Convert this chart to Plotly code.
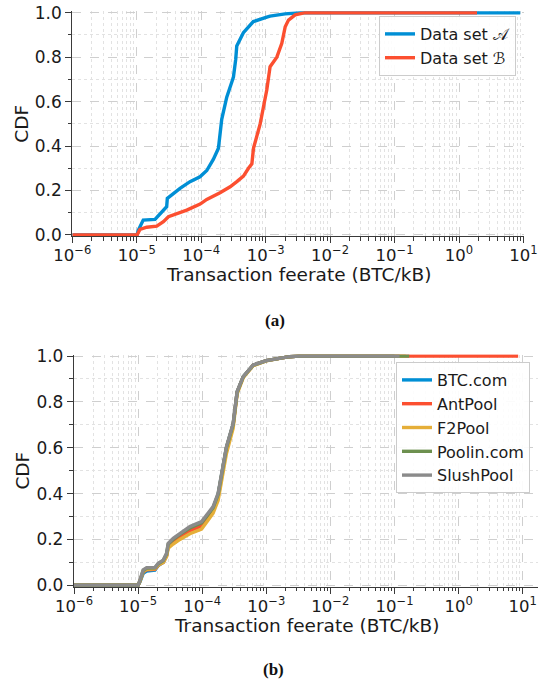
import plotly.graph_objects as go

# ---------------- data: panel (a) ----------------
a_feerate = [1e-6, 1.01e-5, 1.06e-5, 1.26e-5, 1.92e-5, 2.58e-5, 2.91e-5, 2.98e-5, 3.70e-5,
             4.69e-5, 6.70e-5, 9.57e-5, 1.22e-4, 1.54e-4, 1.85e-4, 2.08e-4, 2.49e-4, 3.16e-4,
             3.43e-4, 3.56e-4, 4.51e-4, 6.44e-4, 1.04e-3, 1.17e-3, 2.0e-3, 3.44e-3, 8.9]
a_cdf = [0, 0, 0.022, 0.067, 0.07, 0.11, 0.127, 0.165, 0.187,
         0.21, 0.24, 0.262, 0.29, 0.34, 0.39, 0.52, 0.62, 0.71,
         0.79, 0.85, 0.91, 0.96, 0.98, 0.985, 0.995, 1.0, 1.0]

b_feerate = [1e-6, 1.01e-5, 1.12e-5, 1.43e-5, 2.04e-5, 2.59e-5, 3.10e-5, 3.70e-5, 5.97e-5,
             9.62e-5, 1.22e-4, 1.96e-4, 2.81e-4, 3.57e-4, 4.52e-4, 5.41e-4, 6.11e-4, 6.47e-4,
             7.29e-4, 8.22e-4, 9.25e-4, 1.04e-3, 1.17e-3, 1.49e-3, 1.78e-3, 1.94e-3, 2.01e-3,
             2.26e-3, 2.87e-3, 3.65e-3, 4.10e-3, 1.9]
b_cdf = [0, 0, 0.025, 0.035, 0.04, 0.06, 0.082, 0.09, 0.112,
         0.139, 0.16, 0.19, 0.217, 0.24, 0.265, 0.30, 0.32, 0.39,
         0.44, 0.50, 0.577, 0.652, 0.757, 0.80, 0.862, 0.906, 0.937,
         0.967, 0.99, 0.997, 1.0, 1.0]

# ---------------- data: panel (b) ----------------
pools = ["BTC.com", "AntPool", "F2Pool", "Poolin.com", "SlushPool"]
pool_feerate = [1e-6, 1.0e-5, 1.07e-5, 1.2e-5, 1.36e-5, 1.83e-5, 2.06e-5, 2.47e-5, 2.78e-5,
                2.95e-5, 3.53e-5, 4.49e-5, 6.43e-5, 9.77e-5, 1.17e-4, 1.48e-4, 1.77e-4,
                2.0e-4, 2.39e-4, 3.04e-4, 3.30e-4, 3.51e-4, 4.36e-4, 6.24e-4, 1.0e-3,
                1.6e-3, 2.3e-3, 3.2e-3]
pool_max_feerate = [0.1, 8.5, 0.15, 0.17, 0.12]
btc_cdf = [0, 0, 0.015, 0.052, 0.062, 0.066, 0.086, 0.1, 0.13, 0.172, 0.195, 0.218, 0.247,
           0.27, 0.3, 0.338, 0.395, 0.482, 0.6, 0.702, 0.776, 0.843, 0.909, 0.96, 0.98,
           0.99, 0.997, 1.0]
ant_cdf = [0, 0, 0.018, 0.058, 0.068, 0.07, 0.088, 0.1, 0.128, 0.168, 0.188, 0.21, 0.238,
           0.258, 0.29, 0.33, 0.39, 0.478, 0.598, 0.70, 0.775, 0.842, 0.908, 0.96, 0.98,
           0.99, 0.997, 1.0]
f2_cdf = [0, 0, 0.018, 0.06, 0.07, 0.072, 0.088, 0.1, 0.125, 0.162, 0.18, 0.2, 0.225,
          0.245, 0.275, 0.315, 0.37, 0.455, 0.575, 0.685, 0.765, 0.835, 0.905, 0.958, 0.979,
          0.99, 0.997, 1.0]
poolin_cdf = [0, 0, 0.02, 0.064, 0.075, 0.076, 0.094, 0.108, 0.137, 0.18, 0.2, 0.222, 0.25,
              0.272, 0.3, 0.338, 0.396, 0.482, 0.6, 0.702, 0.776, 0.843, 0.909, 0.96, 0.98,
              0.99, 0.997, 1.0]
slush_cdf = [0, 0, 0.023, 0.067, 0.077, 0.077, 0.096, 0.11, 0.14, 0.183, 0.205, 0.227, 0.256,
             0.278, 0.307, 0.343, 0.401, 0.488, 0.605, 0.706, 0.779, 0.845, 0.91, 0.961, 0.98,
             0.99, 0.997, 1.0]
pool_cdfs = [btc_cdf, ant_cdf, f2_cdf, poolin_cdf, slush_cdf]

x_tick_vals = [1e-6, 1e-5, 1e-4, 1e-3, 1e-2, 1e-1, 1e0, 1e1]
x_tick_text = ["10<sup>−6</sup>", "10<sup>−5</sup>", "10<sup>−4</sup>", "10<sup>−3</sup>",
               "10<sup>−2</sup>", "10<sup>−1</sup>", "10<sup>0</sup>", "10<sup>1</sup>"]
y_tick_vals = [0, 0.2, 0.4, 0.6, 0.8, 1.0]
y_tick_text = ["0.0", "0.2", "0.4", "0.6", "0.8", "1.0"]
y_minor_vals = [0.1, 0.3, 0.5, 0.7, 0.9]
x_minor_vals = [m * 10 ** e for e in range(-6, 2) for m in range(2, 10)]
x_title = "Transaction feerate (BTC/kB)"
y_title = "CDF"

COLORS = ["#008fd5", "#fc4f30", "#e5ae38", "#6d904f", "#8b8b8b"]

W, H = 543, 683
AX = "#3a3a3a"
FONT = "DejaVu Sans"
PAD = 0.006

def xdom(px0, px1):
    return [px0 / W, px1 / W]

def ydom(py_zero, py_one):
    scale = py_zero - py_one
    bot = py_zero + PAD * scale
    top = py_one - PAD * scale
    return [1 - bot / H, 1 - top / H]

fig = go.Figure()

fig.add_trace(go.Scatter(x=a_feerate, y=a_cdf, mode="lines", name="Data set 𝒜",
                         line=dict(color=COLORS[0], width=3.4), xaxis="x", yaxis="y",
                         legend="legend"))
fig.add_trace(go.Scatter(x=b_feerate, y=b_cdf, mode="lines", name="Data set ℬ",
                         line=dict(color=COLORS[1], width=3.4), xaxis="x", yaxis="y",
                         legend="legend"))

for name, cdf, xmax, col in zip(pools, pool_cdfs, pool_max_feerate, COLORS):
    fig.add_trace(go.Scatter(x=pool_feerate + [xmax], y=cdf + [1.0], mode="lines", name=name,
                             line=dict(color=col, width=3.4), xaxis="x2", yaxis="y2",
                             legend="legend2"))

def xaxis_style(domain, rng, anchor):
    return dict(
        type="log", domain=domain, range=rng, anchor=anchor, automargin=False,
        showline=True, linecolor=AX, linewidth=1.3, mirror=False,
        ticks="outside", ticklen=6, tickwidth=1.3, tickcolor=AX,
        tickmode="array", tickvals=x_tick_vals, ticktext=x_tick_text,
        tickfont=dict(family=FONT, size=16.5, color="#1a1a1a"),
        ticklabelstandoff=-2,
        showgrid=True, gridcolor="#cfcfcf", griddash="dash", gridwidth=1,
        zeroline=False,
        minor=dict(tickmode="array", tickvals=x_minor_vals, ticks="outside", ticklen=3.5,
                   tickwidth=1.1, tickcolor=AX, showgrid=True, gridcolor="#e2e2e2",
                   griddash="dot", gridwidth=1),
    )

def yaxis_style(domain, anchor):
    return dict(
        domain=domain, range=[-PAD, 1 + PAD], anchor=anchor, automargin=False,
        showline=True, linecolor=AX, linewidth=1.3,
        ticks="outside", ticklen=6, tickwidth=1.3, tickcolor=AX,
        tickmode="array", tickvals=y_tick_vals, ticktext=y_tick_text,
        tickfont=dict(family=FONT, size=17, color="#1a1a1a"),
        showgrid=True, gridcolor="#cfcfcf", griddash="dash", gridwidth=1,
        zeroline=False,
        minor=dict(tickmode="array", tickvals=y_minor_vals, ticks="outside", ticklen=3.5,
                   tickwidth=1.1, tickcolor=AX, showgrid=True, gridcolor="#e2e2e2",
                   griddash="dot", gridwidth=1),
        title=dict(text=y_title, standoff=1, font=dict(family=FONT, size=18.5, color="#1a1a1a")),
    )

legend_common = dict(bgcolor="rgba(255,255,255,0.9)", bordercolor="#cccccc", borderwidth=1,
                     font=dict(family=FONT, size=16, color="#1a1a1a"),
                     xanchor="right", yanchor="top")

def paper_text(text, px, py, size, family=FONT, color="#1a1a1a"):
    return dict(text=text, x=px / W, y=1 - py / H, xref="paper", yref="paper",
                xanchor="center", yanchor="middle", showarrow=False,
                font=dict(family=family, size=size, color=color))

fig.update_layout(
    width=W, height=H, margin=dict(l=0, r=0, t=0, b=0),
    paper_bgcolor="white", plot_bgcolor="white",
    showlegend=True,
    xaxis=xaxis_style(xdom(72.3, 523.5), [-6, 1], "y"),
    yaxis=yaxis_style(ydom(235, 12.7), "x"),
    xaxis2=xaxis_style(xdom(74, 538), [-6, 1.239], "y2"),
    yaxis2=yaxis_style(ydom(585.3, 356), "x2"),
    legend=dict(x=516 / W, y=1 - 16 / H, **legend_common),
    legend2=dict(x=530 / W, y=1 - 362 / H, **legend_common),
    annotations=[
        paper_text(x_title, 298, 274, 18.5),
        paper_text(x_title, 306, 625, 18.5),
        paper_text("<b>(a)</b>", 275, 320, 17, "Liberation Serif", "#111111"),
        paper_text("<b>(b)</b>", 273, 669, 17, "Liberation Serif", "#111111"),
    ],
)

fig.write_html("out.html", config={"displayModeBar": False},
               post_script="document.body.style.margin='0';document.body.style.overflow='hidden';")
